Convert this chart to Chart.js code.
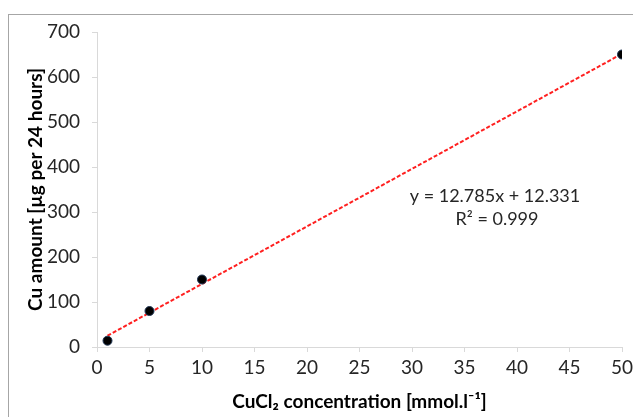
<!DOCTYPE html>
<html>
<head>
<meta charset="utf-8">
<script src="https://cdn.jsdelivr.net/npm/chart.js@4/dist/chart.umd.min.js"></script>
<style>
  html, body { margin: 0; padding: 0; background: #fff; }
  #wrap { width: 633px; height: 417px; position: relative; }
</style>
</head>
<body>
<div id="wrap"><canvas id="cuChart" width="633" height="417"></canvas></div>
<script>
// measured points
const concentration = [1, 5, 10, 50];
const cuAmount = [14, 80, 150, 650];

// trendline end points as drawn
const trendX = [1, 50];
const trendY = [25.1, 651.6];

const equationText = 'y = 12.785x + 12.331';
const r2Text = 'R² = 0.999';

const FONT = 'Lato, "Open Sans", sans-serif';
const ctx = document.getElementById('cuChart');

// grey frame and the fit equation
const extras = {
  id: 'extras',
  beforeDraw(chart) {
    const c = chart.ctx;
    c.save();
    c.fillStyle = '#fff';
    c.fillRect(0, 0, chart.width, chart.height);
    c.strokeStyle = '#a6a6a6';
    c.lineWidth = 1;
    c.strokeRect(8.5, 14.5, 700, 500);
    c.restore();
  },
  afterDraw(chart) {
    const c = chart.ctx;
    c.save();
    c.fillStyle = '#262626';
    c.font = '18px ' + FONT;
    c.textAlign = 'center';
    c.textBaseline = 'middle';
    c.fillText(equationText, 495, 196);
    c.fillText(r2Text, 497, 219);
    c.restore();
  }
};

new Chart(ctx, {
  type: 'scatter',
  data: {
    datasets: [
      {
        label: 'Cu',
        data: concentration.map((x, i) => ({ x: x, y: cuAmount[i] })),
        backgroundColor: '#000',
        borderColor: '#1f3554',
        borderWidth: 1,
        pointRadius: 4.5,
        order: 1
      },
      {
        type: 'line',
        label: 'Linear',
        data: trendX.map((x, i) => ({ x: x, y: trendY[i] })),
        borderColor: '#ff2020',
        borderWidth: 2,
        borderDash: [4, 2],
        pointRadius: 0,
        fill: false,
        order: 2
      }
    ]
  },
  options: {
    responsive: false,
    animation: false,
    layout: { padding: { left: 24, right: 11, top: 32, bottom: 0 } },
    plugins: {
      legend: { display: false },
      tooltip: { enabled: false }
    },
    scales: {
      x: {
        type: 'linear',
        min: 0,
        max: 50,
        ticks: {
          stepSize: 5,
          color: '#262626',
          padding: 4,
          font: { family: FONT, size: 19 }
        },
        grid: { drawOnChartArea: false, drawTicks: true, tickLength: 5, color: '#d9d9d9' },
        border: { color: '#d9d9d9' },
        title: {
          display: true,
          text: 'CuCl₂ concentration [mmol.l⁻¹]',
          color: '#000',
          font: { family: FONT, size: 19, weight: 'bold' },
          padding: { top: 0, bottom: 4 }
        },
        afterFit(scale) {
          scale.height = 70;
          scale.paddingLeft = 0;
          scale.paddingRight = 0;
        }
      },
      y: {
        min: 0,
        max: 700,
        ticks: {
          stepSize: 100,
          color: '#262626',
          padding: 12,
          font: { family: FONT, size: 19 }
        },
        grid: { drawOnChartArea: false, drawTicks: true, tickLength: 5, color: '#d9d9d9' },
        border: { color: '#d9d9d9' },
        title: {
          display: true,
          text: 'Cu amount [µg per 24 hours]',
          color: '#000',
          font: { family: FONT, size: 19, weight: 'bold' },
          padding: { top: 0, bottom: 0 }
        },
        afterFit(scale) {
          scale.width = 73;
          scale.paddingTop = 0;
          scale.paddingBottom = 0;
        }
      }
    }
  },
  plugins: [extras]
});
</script>
</body>
</html>
